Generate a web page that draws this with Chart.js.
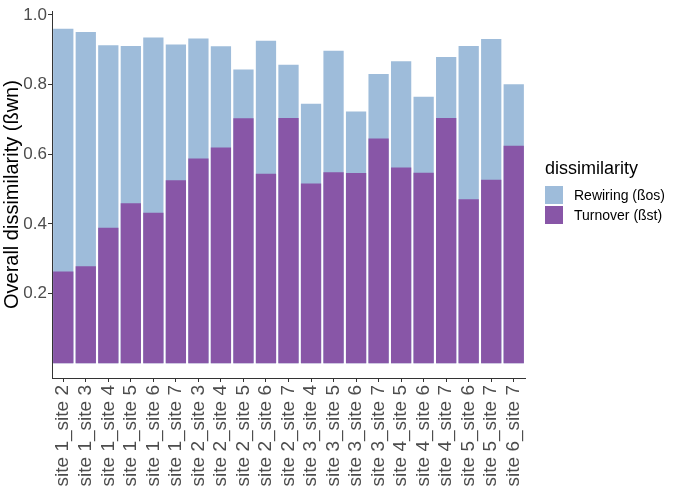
<!DOCTYPE html>
<html lang="en">
<head>
  <meta charset="UTF-8">
  <title>Overall dissimilarity</title>
  <script src="https://cdn.jsdelivr.net/npm/chart.js"></script>
  <style>
    body { margin: 0; background: #fff; font-family: "Liberation Sans", Arial, sans-serif; }
    .wrap { position: relative; width: 677px; height: 489px; }
    .legend { position: absolute; left: 545px; top: 158px; color: #000; }
    .legend-title { font-size: 18px; margin-bottom: 6px; }
    .legend-row { display: flex; align-items: center; height: 20px; font-size: 14px; }
    .key { width: 18px; height: 18px; margin-right: 11px; }
  </style>
</head>
<body>
  <div class="wrap">
    <canvas id="chart"></canvas>
    <div class="legend">
      <div class="legend-title">dissimilarity</div>
      <div class="legend-row"><span class="key" style="background:#9ebcda"></span>Rewiring (ßos)</div>
      <div class="legend-row"><span class="key" style="background:#8856a7"></span>Turnover (ßst)</div>
    </div>
  </div>

  <script>
    const pairs = [
      'site 1_site 2', 'site 1_site 3', 'site 1_site 4', 'site 1_site 5', 'site 1_site 6', 'site 1_site 7',
      'site 2_site 3', 'site 2_site 4', 'site 2_site 5', 'site 2_site 6', 'site 2_site 7',
      'site 3_site 4', 'site 3_site 5', 'site 3_site 6', 'site 3_site 7',
      'site 4_site 5', 'site 4_site 6', 'site 4_site 7',
      'site 5_site 6', 'site 5_site 7',
      'site 6_site 7'
    ];
    // overall dissimilarity (top of the blue bar)
    const overall = [0.960, 0.951, 0.913, 0.911, 0.935, 0.915, 0.932, 0.910, 0.843, 0.926, 0.857,
                     0.745, 0.897, 0.723, 0.830, 0.867, 0.765, 0.879, 0.911, 0.931, 0.801];
    // turnover part (purple bar)
    const turnover = [0.263, 0.278, 0.389, 0.459, 0.432, 0.525, 0.588, 0.619, 0.703, 0.544, 0.704,
                      0.516, 0.548, 0.546, 0.645, 0.562, 0.547, 0.704, 0.471, 0.527, 0.624];
    const yTicks = [0.2, 0.4, 0.6, 0.8, 1.0];

    const font = '"Liberation Sans", Arial, sans-serif';

    new Chart(document.getElementById('chart'), {
      type: 'bar',
      data: {
        labels: pairs,
        datasets: [
          {
            label: 'Rewiring (ßos)',
            data: overall,
            backgroundColor: '#9ebcda',
            grouped: false,
            order: 2
          },
          {
            label: 'Turnover (ßst)',
            data: turnover,
            backgroundColor: '#8856a7',
            grouped: false,
            order: 1
          }
        ]
      },
      options: {
        responsive: true,
        maintainAspectRatio: false,
        animation: false,
        categoryPercentage: 0.9,
        barPercentage: 1,
        layout: { padding: { top: 3, right: 152, left: 0, bottom: 0 } },
        plugins: {
          legend: { display: false },
          tooltip: { enabled: false }
        },
        scales: {
          x: {
            grid: { offset: false, drawOnChartArea: false, drawTicks: true, tickLength: 4, color: '#333' },
            border: { color: '#333', width: 1 },
            ticks: {
              minRotation: 90, maxRotation: 90, autoSkip: false, padding: 3,
              color: '#4d4d4d', font: { family: font, size: 19 }
            },
            afterFit: s => { s.height = 111; }
          },
          y: {
            min: -0.0427,
            max: 1.0107,
            afterBuildTicks: s => { s.ticks = yTicks.map(v => ({ value: v })); },
            grid: { drawOnChartArea: false, drawTicks: true, tickLength: 4, color: '#333' },
            border: { color: '#333', width: 1 },
            ticks: {
              padding: 1, color: '#4d4d4d', font: { family: font, size: 17 },
              callback: v => v.toFixed(1)
            },
            title: {
              display: true, text: 'Overall dissimilarity (ßwn)', color: '#000',
              font: { family: font, size: 20 }, padding: { top: 0, bottom: 2 }
            },
            afterFit: s => { s.width = 52; }
          }
        }
      }
    });
  </script>
</body>
</html>
